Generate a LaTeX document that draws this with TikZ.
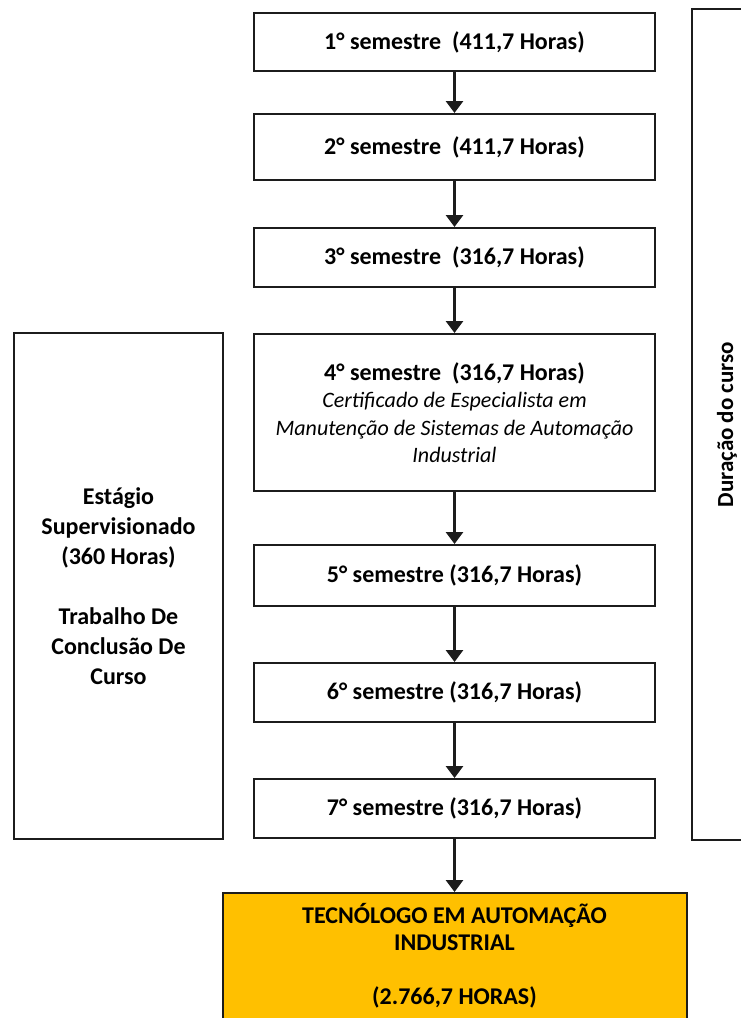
\documentclass[tikz,border=0pt]{standalone}
\usepackage{fontspec}
\setmainfont{Carlito}
\usetikzlibrary{arrows.meta,positioning}
\definecolor{curink}{HTML}{1C1C1C}
\definecolor{curgold}{HTML}{FFC000}
\newcommand{\certline}[1]{{\fontsize{22}{27.5}\selectfont\mdseries\itshape #1}}
\tikzset{
  bx/.style={draw=curink, line width=2pt, align=center, inner sep=2pt, text=black},
  sem/.style={bx, fill=white, minimum width=401pt, font=\fontsize{24}{27.5}\selectfont\bfseries},
  side/.style={bx, fill=white, font=\fontsize{24}{30}\selectfont\bfseries},
  fin/.style={bx, fill=curgold, minimum width=464pt, minimum height=128pt, font=\fontsize{24}{27}\selectfont\bfseries},
  arr/.style={-{Triangle[length=12pt, width=17pt]}, line width=3.5pt, color=curink},
}
\begin{document}
\begin{tikzpicture}[x=1pt, y=-1pt]
    \useasboundingbox (0,0) rectangle (741,1018);
    \node[sem, minimum height=58pt] (s1) at (454.5,42) {1° semestre\ \ (411,7 Horas)};
    \node[sem, minimum height=66pt, below=41pt of s1] (s2) {2° semestre\ \ (411,7 Horas)};
    \node[sem, minimum height=59pt, below=46pt of s2] (s3) {3° semestre\ \ (316,7 Horas)};
    \node[sem, minimum height=157pt, below=45pt of s3] (s4) {4° semestre\ \ (316,7 Horas)\\\certline{Certificado de Especialista em}\\\certline{Manutenção de Sistemas de Automação}\\\certline{Industrial}};
    \node[sem, minimum height=61pt, below=52pt of s4] (s5) {5° semestre (316,7 Horas)};
    \node[sem, minimum height=59pt, below=55pt of s5] (s6) {6° semestre (316,7 Horas)};
    \node[sem, minimum height=59pt, below=55pt of s6] (s7) {7° semestre (316,7 Horas)};
    \node[fin, below=53pt of s7, text depth=6pt] (tec) {TECNÓLOGO EM AUTOMAÇÃO\\INDUSTRIAL\\[27pt](2.766,7 HORAS)};
    \node[side, minimum width=209pt, minimum height=506pt] (est) at (118.5,586) {Estágio\\Supervisionado\\(360 Horas)\\[30pt]Trabalho De\\Conclusão De\\Curso};
    \node[side, rotate=90, minimum width=831pt, minimum height=70pt, font=\fontsize{23}{28}\selectfont\bfseries] (dur) at (727,424.5) {Duração do curso};
    \draw[arr] (s1) -- (s2); \draw[arr] (s2) -- (s3); \draw[arr] (s3) -- (s4);
    \draw[arr] (s4) -- (s5); \draw[arr] (s5) -- (s6); \draw[arr] (s6) -- (s7);
    \draw[arr] (s7) -- (tec);
\end{tikzpicture}
\end{document}
